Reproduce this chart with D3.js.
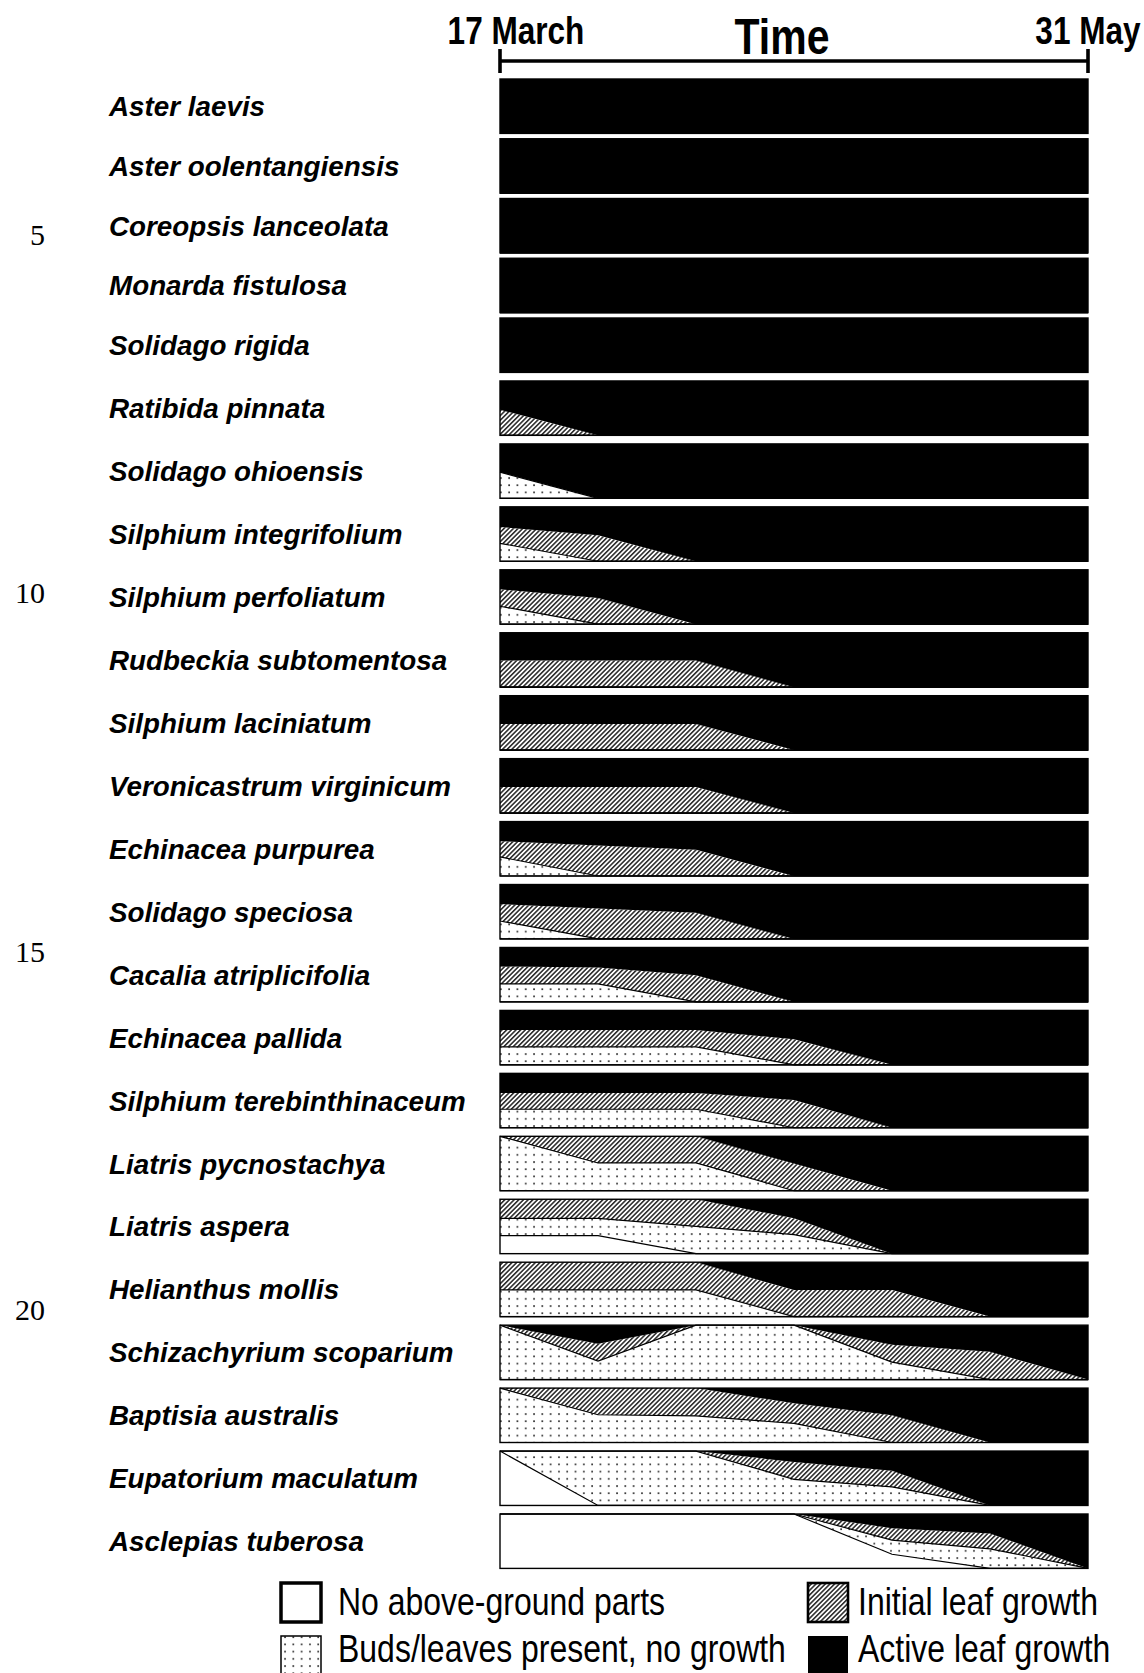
<!DOCTYPE html>
<html>
<head>
<meta charset="utf-8">
<script src="https://cdn.jsdelivr.net/npm/d3@7"></script>
<style>
  html, body { margin: 0; padding: 0; background: #fff; }
  svg { display: block; }
</style>
</head>
<body>
<svg id="chart" width="1144" height="1673"></svg>
<script>
// Species, top to bottom
const species = [
  "Aster laevis", "Aster oolentangiensis", "Coreopsis lanceolata", "Monarda fistulosa",
  "Solidago rigida", "Ratibida pinnata", "Solidago ohioensis", "Silphium integrifolium",
  "Silphium perfoliatum", "Rudbeckia subtomentosa", "Silphium laciniatum",
  "Veronicastrum virginicum", "Echinacea purpurea", "Solidago speciosa",
  "Cacalia atriplicifolia", "Echinacea pallida", "Silphium terebinthinaceum",
  "Liatris pycnostachya", "Liatris aspera", "Helianthus mollis",
  "Schizachyrium scoparium", "Baptisia australis", "Eupatorium maculatum",
  "Asclepias tuberosa"
];

// Seven surveys, evenly spaced from the first to the last date
const surveys = [0, 1, 2, 3, 4, 5, 6];
const axisEndLabels = ["17 March", "31 May"];
const axisTitle = "Time";

// Percent of plants in each state at each survey (one row per species).
// "Active leaf growth" is whatever remains up to 100 %.
const noAboveGround = [
  [0,0,0,0,0,0,0], [0,0,0,0,0,0,0], [0,0,0,0,0,0,0], [0,0,0,0,0,0,0],
  [0,0,0,0,0,0,0], [0,0,0,0,0,0,0], [0,0,0,0,0,0,0], [0,0,0,0,0,0,0],
  [0,0,0,0,0,0,0], [0,0,0,0,0,0,0], [0,0,0,0,0,0,0], [0,0,0,0,0,0,0],
  [0,0,0,0,0,0,0], [0,0,0,0,0,0,0], [0,0,0,0,0,0,0], [0,0,0,0,0,0,0],
  [0,0,0,0,0,0,0], [0,0,0,0,0,0,0], [33,33,0,0,0,0,0], [0,0,0,0,0,0,0],
  [0,0,0,0,0,0,0], [0,0,0,0,0,0,0], [100,0,0,0,0,0,0], [100,100,100,100,26,0,0]
];
const budsNoGrowth = [
  [0,0,0,0,0,0,0], [0,0,0,0,0,0,0], [0,0,0,0,0,0,0], [0,0,0,0,0,0,0],
  [0,0,0,0,0,0,0], [0,0,0,0,0,0,0], [48,0,0,0,0,0,0], [33,0,0,0,0,0,0],
  [33,0,0,0,0,0,0], [0,0,0,0,0,0,0], [0,0,0,0,0,0,0], [0,0,0,0,0,0,0],
  [35,0,0,0,0,0,0], [33,0,0,0,0,0,0], [33,33,0,0,0,0,0], [33,33,33,0,0,0,0],
  [34,34,34,0,0,0,0], [100,51,51,0,0,0,0], [32,32,50,35,0,0,0], [49,49,49,0,0,0,0],
  [100,34,100,100,32,0,0], [100,51,49,35,0,0,0], [0,100,100,48,34,0,0], [0,0,0,0,26,36,0]
];
const initialGrowth = [
  [0,0,0,0,0,0,0], [0,0,0,0,0,0,0], [0,0,0,0,0,0,0], [0,0,0,0,0,0,0],
  [0,0,0,0,0,0,0], [47,0,0,0,0,0,0], [0,0,0,0,0,0,0], [30,48,0,0,0,0,0],
  [31,48,0,0,0,0,0], [49,49,49,0,0,0,0], [48,48,48,0,0,0,0], [48,48,48,0,0,0,0],
  [29,56,48,0,0,0,0], [31,56,48,0,0,0,0], [32,30,49,0,0,0,0], [31,31,31,47,0,0,0],
  [30,30,30,51,0,0,0], [0,49,49,50,0,0,0], [35,35,50,30,0,0,0], [51,51,51,49,49,0,0],
  [0,32,0,0,32,51,0], [0,49,51,37,50,0,0], [0,0,0,32,30,0,0], [0,0,0,0,22,28,0]
];

const stateKeys = ["none", "buds", "initial", "active"];
const legendLabels = [
  "No above-ground parts", "Buds/leaves present, no growth",
  "Initial leaf growth", "Active leaf growth"
];
const lineNumbers = [5, 10, 15, 20];

// ---------------------------------------------------------------------------
const svg = d3.select("#chart");
const defs = svg.append("defs");

// Diagonal hatching for initial leaf growth
const hatch = defs.append("pattern")
  .attr("id", "hatch").attr("patternUnits", "userSpaceOnUse")
  .attr("width", 3.3).attr("height", 3.3)
  .attr("patternTransform", "rotate(45)");
hatch.append("rect").attr("width", 3.3).attr("height", 3.3).attr("fill", "#fff");
hatch.append("line").attr("x1", 0.8).attr("x2", 0.8).attr("y1", 0).attr("y2", 3.3)
  .attr("stroke", "#1a1a1a").attr("stroke-width", 1.45);

// Sparse dot screen for buds present, no growth
const dots = defs.append("pattern")
  .attr("id", "dots").attr("patternUnits", "userSpaceOnUse")
  .attr("width", 8.3).attr("height", 7.2);
dots.append("rect").attr("width", 8.3).attr("height", 7.2).attr("fill", "#fff");
dots.append("rect").attr("x", 2).attr("y", 2).attr("width", 1.7).attr("height", 1.7)
  .attr("fill", "#333");

const fills = { none: "#fff", buds: "url(#dots)", initial: "url(#hatch)", active: "#000" };

// Condensed sans for the axis and legend: a regular face squeezed horizontally
const SANS = "'Liberation Sans', Arial, Helvetica, sans-serif";
const squeeze = 0.82;

function narrowText(parent, str, x, y, size, weight, anchor) {
  return parent.append("text")
    .attr("transform", `translate(${x},${y}) scale(${squeeze},1)`)
    .attr("font-family", SANS)
    .attr("font-size", size)
    .attr("font-weight", weight)
    .attr("text-anchor", anchor || "start")
    .attr("fill", "#000")
    .text(str);
}

// Scales
const x = d3.scaleLinear().domain(d3.extent(surveys)).range([500, 1088]);
const rowTop = d3.scaleLinear().domain([0, 4, species.length - 1]).range([79, 318, 1514]);
const rowH = 54.4;

// Time axis
const axisY = 61;
const axisG = svg.append("g");
axisG.append("line")
  .attr("x1", x(surveys[0])).attr("x2", x(surveys[surveys.length - 1]))
  .attr("y1", axisY).attr("y2", axisY)
  .attr("stroke", "#000").attr("stroke-width", 3.6);
axisG.selectAll("line.tick")
  .data([surveys[0], surveys[surveys.length - 1]])
  .join("line").attr("class", "tick")
  .attr("x1", d => x(d)).attr("x2", d => x(d))
  .attr("y1", axisY - 12).attr("y2", axisY + 12)
  .attr("stroke", "#000").attr("stroke-width", 3.6);
narrowText(axisG, axisEndLabels[0], x(surveys[0]) + 16, 44, 38.5, "bold", "middle");
narrowText(axisG, axisEndLabels[1], x(surveys[surveys.length - 1]) + 0, 44, 38.5, "bold", "middle");
narrowText(axisG, axisTitle, 782, 53.5, 50, "bold", "middle");

// Rows
const stack = d3.stack().keys(stateKeys);

species.forEach((name, i) => {
  const records = surveys.map((s, j) => {
    const none = noAboveGround[i][j], buds = budsNoGrowth[i][j], initial = initialGrowth[i][j];
    return { survey: s, none, buds, initial, active: 100 - none - buds - initial };
  });
  const series = stack(records);
  const top = rowTop(i);
  const y = d3.scaleLinear().domain([0, 100]).range([top + rowH, top]);

  const g = svg.append("g").attr("class", "row");

  const area = d3.area()
    .x(d => x(d.data.survey))
    .y0(d => y(d[0]))
    .y1(d => y(d[1]));

  g.selectAll("path.state")
    .data(series)
    .join("path").attr("class", "state")
    .attr("d", area)
    .attr("fill", s => fills[s.key]);

  // Boundaries between the stacked states
  const edge = d3.line().x(d => x(d.data.survey)).y(d => y(d[1]));
  g.selectAll("path.edge")
    .data(series.slice(0, 2))
    .join("path").attr("class", "edge")
    .attr("d", edge)
    .attr("fill", "none").attr("stroke", "#000").attr("stroke-width", 1.2);

  g.append("rect")
    .attr("x", x(surveys[0])).attr("y", top)
    .attr("width", x(surveys[surveys.length - 1]) - x(surveys[0])).attr("height", rowH)
    .attr("fill", "none").attr("stroke", "#000").attr("stroke-width", 1.4);

  g.append("text")
    .attr("x", 109).attr("y", top + rowH / 2 + 10)
    .attr("font-family", SANS)
    .attr("font-size", 27.8).attr("font-weight", "bold").attr("font-style", "italic")
    .attr("fill", "#000")
    .text(name);
});

// Manuscript line numbers
svg.selectAll("text.lineno")
  .data(lineNumbers)
  .join("text").attr("class", "lineno")
  .attr("x", 45).attr("y", (d, k) => 245 + k * 358.3)
  .attr("text-anchor", "end")
  .attr("font-family", "'Liberation Serif', 'Times New Roman', serif")
  .attr("font-size", 30).attr("fill", "#000")
  .text(d => d);

// Legend
const legend = svg.append("g");
const legendItems = [
  { key: "none", label: legendLabels[0], col: 0, row: 0, stroke: 3.5 },
  { key: "buds", label: legendLabels[1], col: 0, row: 1, stroke: 1.5 },
  { key: "initial", label: legendLabels[2], col: 1, row: 0, stroke: 2.6 },
  { key: "active", label: legendLabels[3], col: 1, row: 1, stroke: 0 }
];
const colX = [281, 808];
const textGap = [57, 50];
const rowY = [1583, 1636];
const textBase = [1615, 1662];
legendItems.forEach(it => {
  const bx = colX[it.col], by = rowY[it.row];
  legend.append("rect")
    .attr("x", bx).attr("y", by).attr("width", 40).attr("height", 39)
    .attr("fill", fills[it.key])
    .attr("stroke", it.stroke ? "#000" : "none")
    .attr("stroke-width", it.stroke);
  narrowText(legend, it.label, bx + textGap[it.col], textBase[it.row], 39, "normal", "start");
});
</script>
</body>
</html>
